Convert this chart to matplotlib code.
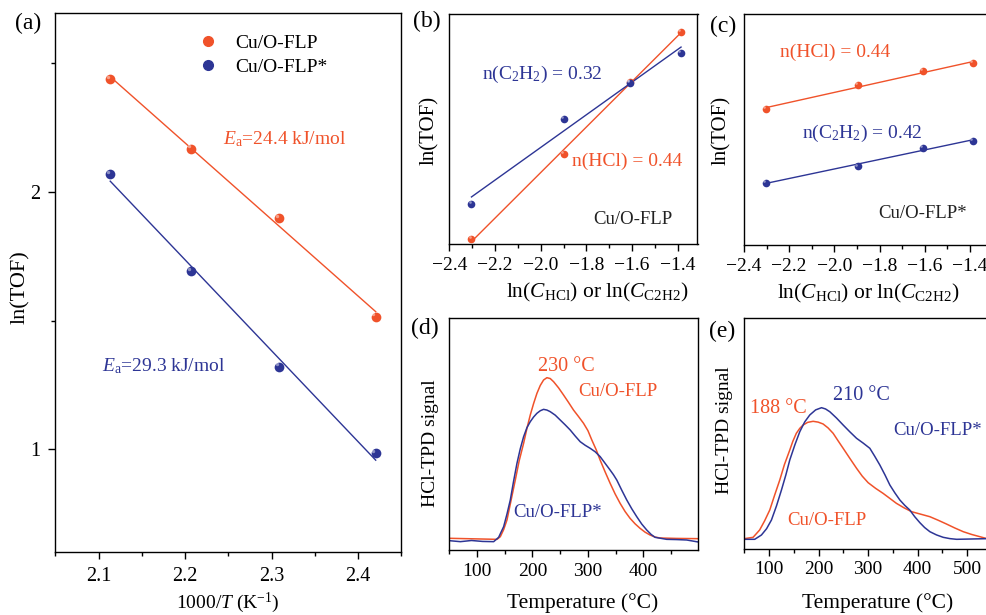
import numpy as np
import matplotlib
matplotlib.use("Agg")
import matplotlib.pyplot as plt
from matplotlib.ticker import MultipleLocator, NullLocator, FixedLocator
from matplotlib.transforms import offset_copy

plt.rcParams['font.family'] = ['Liberation Serif', 'DejaVu Serif']
plt.rcParams['mathtext.fontset'] = 'custom'
plt.rcParams['mathtext.rm'] = 'Liberation Serif'
plt.rcParams['mathtext.it'] = 'Liberation Serif:italic'
plt.rcParams['axes.unicode_minus'] = True

ORANGE = '#F0522A'
BLUE = '#2D3595'

# ---------------- data ----------------
# (a) Arrhenius
invT = [2.1135, 2.2068, 2.3087, 2.4204]
lnTOF_flp = [2.438, 2.168, 1.899, 1.516]
lnTOF_flpstar = [2.068, 1.692, 1.321, 0.985]

# (b)/(c) reaction orders
lnC = [-2.303, -1.897, -1.609, -1.386]
b_hcl = [0.010, 0.173, 0.313, 0.409]
b_c2h2 = [0.078, 0.2415, 0.311, 0.368]
c_hcl = [1.183, 1.388, 1.510, 1.580]
c_c2h2 = [0.542, 0.683, 0.846, 0.908]

# (d) HCl-TPD
d_T_flp = [50, 136, 142, 148, 154, 161, 169, 176, 184, 190, 196, 202, 208, 214, 220, 226, 232, 238, 247, 256, 265,
           274, 283, 292, 300, 307, 315, 322, 331, 340, 349, 358, 367, 376, 385, 394, 403, 412, 421, 430, 460, 499]
d_s_flp = [0.0505, 0.046, 0.0575, 0.088, 0.1295, 0.21, 0.302, 0.385, 0.4605, 0.525, 0.5826, 0.632, 0.676, 0.710,
           0.7337, 0.7437, 0.740, 0.7265, 0.700, 0.669, 0.637, 0.604, 0.576, 0.547, 0.515, 0.4747, 0.432, 0.388,
           0.337, 0.288, 0.242, 0.2015, 0.166, 0.1366, 0.113, 0.0935, 0.077, 0.0647, 0.056, 0.0518, 0.050, 0.0489]
d_T_star = [50, 70, 90, 110, 130, 139, 148, 154, 160, 166, 172, 178, 184, 190, 196, 202, 208, 214, 220, 226, 232,
            241, 250, 259, 268, 277, 286, 295, 304, 313, 322, 331, 340, 346, 352, 361, 370, 379, 388, 397, 406, 414,
            421, 442, 460, 478, 499]
d_s_star = [0.0403, 0.036, 0.041, 0.037, 0.036, 0.0547, 0.1007, 0.155, 0.2158, 0.298, 0.374, 0.437, 0.489, 0.528,
            0.5538, 0.574, 0.590, 0.601, 0.607, 0.604, 0.597, 0.582, 0.561, 0.540, 0.518, 0.492, 0.4675, 0.452,
            0.439, 0.424, 0.403, 0.374, 0.345, 0.325, 0.302, 0.258, 0.2158, 0.178, 0.1438, 0.112, 0.0863, 0.067,
            0.0547, 0.046, 0.045, 0.0432, 0.0345]

# (e) HCl-TPD
e_T_flp = [50, 67.7, 81, 91, 101.4, 111, 121.6, 131, 141.8, 148, 155, 162, 168.7, 178, 188.9, 199, 209, 219, 229.3,
           239, 249.5, 263, 276.6, 288, 300, 315, 330, 344, 357, 372, 387.7, 406, 424.6, 441, 458, 475, 492, 509,
           525.6, 540]
e_s_flp = [0.0448, 0.0506, 0.0824, 0.122, 0.169, 0.232, 0.299, 0.366, 0.429, 0.467, 0.5015, 0.523, 0.5375, 0.549,
           0.5535, 0.550, 0.542, 0.525, 0.5015, 0.470, 0.4365, 0.393, 0.3498, 0.316, 0.2874, 0.263, 0.2414, 0.219,
           0.198, 0.179, 0.1617, 0.151, 0.140, 0.125, 0.1084, 0.091, 0.075, 0.063, 0.0533, 0.0448]
e_T_star = [50, 71, 84.6, 95, 104.8, 115, 125, 134, 141.8, 152, 162, 172, 182.2, 194, 205.9, 214, 222.6, 236, 249.5,
            263, 276.6, 290, 303.4, 313, 323.6, 334, 343.8, 354, 364, 374, 384, 394, 404.4, 414, 424.6, 438, 451.5,
            465, 478.6, 540]
e_s_star = [0.042, 0.042, 0.0607, 0.088, 0.1257, 0.187, 0.2557, 0.322, 0.3858, 0.451, 0.5085, 0.551, 0.581, 0.603,
            0.6125, 0.607, 0.595, 0.568, 0.5375, 0.508, 0.4798, 0.459, 0.4365, 0.403, 0.364, 0.321, 0.2774, 0.243,
            0.2124, 0.189, 0.169, 0.140, 0.114, 0.093, 0.075, 0.061, 0.0506, 0.045, 0.042, 0.0448]

W, H = 987, 615
fig = plt.figure(figsize=(W / 100, H / 100), dpi=100)


def ax_px(l, t, r, b):
    return fig.add_axes([l / W, 1 - b / H, (r - l) / W, (b - t) / H])


def ftext(x, y, s, **kw):
    fig.text(x / W, 1 - y / H, s, **kw)


def style(ax, labsize=14, pad=5):
    for sp in ax.spines.values():
        sp.set_linewidth(1.0)
    ax.tick_params(which='both', direction='out', labelsize=labsize, width=1.0, pad=pad)
    ax.tick_params(which='major', length=5)
    ax.tick_params(which='minor', length=3)
    ax.tick_params(axis='y', which='both', left=True, right=False)
    ax.tick_params(axis='x', which='both', top=False)


def balls(ax, x, y, c, ms):
    ax.plot(x, y, 'o', color=c, ms=ms, mec=c, mew=0, zorder=4)
    tr = offset_copy(ax.transData, fig=fig, x=-0.25 * ms, y=0.25 * ms, units='points')
    ax.plot(x, y, 'o', color='white', alpha=0.45, ms=ms * 0.35, mew=0, transform=tr, zorder=5)


def fitline(ax, x, y, c):
    p = np.polyfit(x, y, 1)
    xx = np.array([min(x), max(x)])
    ax.plot(xx, np.polyval(p, xx), '-', color=c, lw=1.0, zorder=3)


# ---------------- (a) ----------------
axa = ax_px(55.3, 13.3, 401.3, 551.7)
style(axa, labsize=14.5, pad=6)
fitline(axa, invT, lnTOF_flp, ORANGE)
fitline(axa, invT, lnTOF_flpstar, BLUE)
balls(axa, invT, lnTOF_flp, ORANGE, 7)
balls(axa, invT, lnTOF_flpstar, BLUE, 7)
axa.set_xlim(2.05, 2.45)
axa.set_ylim(0.603, 2.694)
axa.xaxis.set_major_locator(MultipleLocator(0.1))
axa.xaxis.set_minor_locator(MultipleLocator(0.05))
axa.yaxis.set_major_locator(FixedLocator([1, 2]))
axa.yaxis.set_minor_locator(FixedLocator([1.5, 2.5]))
axa.set_yticklabels(['1', '2'])
axa.set_xlabel(r'1000/$T$ (K$^{-1}$)', fontsize=14)
axa.xaxis.set_label_coords(0.498, -0.0953)
axa.xaxis.label.set_va('center')
axa.set_ylabel('ln(TOF)', fontsize=16)
axa.yaxis.set_label_coords(-0.100, 0.4916)
axa.yaxis.label.set_va('center')
axa.plot([], [], 'o', color=ORANGE, ms=7, label='Cu/O-FLP')
axa.plot([], [], 'o', color=BLUE, ms=7, label='Cu/O-FLP*')
leg = axa.legend(loc='upper left', bbox_to_anchor=(198 / W, 1 - 34 / H), bbox_transform=fig.transFigure,
                 frameon=False, fontsize=14, handlelength=1.0, handletextpad=0.9, labelspacing=0.35,
                 borderpad=0, borderaxespad=0)
ftext(222.7, 144.7, r'$E_\mathrm{a}$=24.4 kJ/mol', color=ORANGE, fontsize=14, va='baseline')
ftext(101.7, 371.4, r'$E_\mathrm{a}$=29.3 kJ/mol', color=BLUE, fontsize=14, va='baseline')

# ---------------- (b) ----------------
axb = ax_px(449.3, 14, 697.5, 244.3)
style(axb, labsize=14, pad=4)
fitline(axb, lnC, b_hcl, ORANGE)
fitline(axb, lnC, b_c2h2, BLUE)
balls(axb, lnC, b_hcl, ORANGE, 5.5)
balls(axb, lnC, b_c2h2, BLUE, 5.5)
axb.set_xlim(-2.4, -1.314)
axb.set_ylim(0, 0.443)

# ---------------- (c) ----------------
axc = ax_px(744, 14, 992.2, 245)
style(axc, labsize=14, pad=4)
fitline(axc, lnC, c_hcl, ORANGE)
fitline(axc, lnC, c_c2h2, BLUE)
balls(axc, lnC, c_hcl, ORANGE, 5.5)
balls(axc, lnC, c_c2h2, BLUE, 5.5)
axc.set_xlim(-2.4, -1.302)
axc.set_ylim(0, 2.009)

for ax, xl in ((axb, 0.598), (axc, 0.4996)):
    ax.xaxis.set_major_locator(MultipleLocator(0.2))
    ax.xaxis.set_minor_locator(MultipleLocator(0.1))
    ax.yaxis.set_major_locator(NullLocator())
    ax.yaxis.set_minor_locator(NullLocator())
    ax.set_xlabel(r'ln($C_\mathrm{HCl}$) or ln($C_\mathrm{C2H2}$)', fontsize=15.5)
    ax.xaxis.set_label_coords(xl, -0.21)
    ax.xaxis.label.set_va('center')
    ax.set_ylabel('ln(TOF)', fontsize=15)
    ax.yaxis.label.set_va('center')
axb.yaxis.set_label_coords(-0.078, 0.496)
axc.yaxis.set_label_coords(-0.090, 0.494)

ftext(481.7, 79.1, r'n(C$_2$H$_2$) = 0.32', color=BLUE, fontsize=14, va='baseline')
ftext(571.7, 166.4, 'n(HCl) = 0.44', color=ORANGE, fontsize=14, va='baseline')
ftext(593, 224.4, 'Cu/O-FLP', color='#222222', fontsize=13.5, va='baseline')
ftext(780, 57.4, 'n(HCl) = 0.44', color=ORANGE, fontsize=14, va='baseline')
ftext(801.7, 138.1, r'n(C$_2$H$_2$) = 0.42', color=BLUE, fontsize=14, va='baseline')
ftext(878, 218.1, 'Cu/O-FLP*', color='#222222', fontsize=13.5, va='baseline')

# ---------------- (d) ----------------
axd = ax_px(449.3, 318.3, 698.3, 550)
style(axd, labsize=14, pad=4)
axd.plot(d_T_flp, d_s_flp, '-', color=ORANGE, lw=1.1)
axd.plot(d_T_star, d_s_star, '-', color=BLUE, lw=1.1)
axd.set_xlim(50, 499)
axd.set_ylim(0, 1)
axd.xaxis.set_major_locator(FixedLocator([100, 200, 300, 400]))
axd.xaxis.set_minor_locator(FixedLocator([50, 150, 250, 350, 450]))

# ---------------- (e) ----------------
axe = ax_px(744.3, 318.3, 992.5, 549)
style(axe, labsize=14, pad=4)
axe.plot(e_T_flp, e_s_flp, '-', color=ORANGE, lw=1.1)
axe.plot(e_T_star, e_s_star, '-', color=BLUE, lw=1.1)
axe.set_xlim(50, 551)
axe.set_ylim(0, 1)
axe.xaxis.set_major_locator(FixedLocator([100, 200, 300, 400, 500]))
axe.xaxis.set_minor_locator(FixedLocator([50, 150, 250, 350, 450, 550]))

for ax, yl, xx, yy in ((axd, 0.462, -0.0775, -0.229), (axe, 0.516, -0.0778, -0.234)):
    ax.yaxis.set_major_locator(NullLocator())
    ax.yaxis.set_minor_locator(NullLocator())
    ax.set_xlabel('Temperature (°C)', fontsize=15.5)
    ax.xaxis.set_label_coords(0.537, yy)
    ax.xaxis.label.set_va('center')
    ax.set_ylabel('HCl-TPD signal', fontsize=14)
    ax.yaxis.set_label_coords(xx, yl)
    ax.yaxis.label.set_va('center')

ftext(538, 371.4, '230 °C', color=ORANGE, fontsize=14.5, va='baseline')
ftext(578, 395.7, 'Cu/O-FLP', color=ORANGE, fontsize=13.5, va='baseline')
ftext(513, 517.1, 'Cu/O-FLP*', color=BLUE, fontsize=13.5, va='baseline')
ftext(833, 399.7, '210 °C', color=BLUE, fontsize=14.5, va='baseline')
ftext(750, 413.1, '188 °C', color=ORANGE, fontsize=14.5, va='baseline')
ftext(893, 434.7, 'Cu/O-FLP*', color=BLUE, fontsize=13.5, va='baseline')
ftext(787, 524.7, 'Cu/O-FLP', color=ORANGE, fontsize=13.5, va='baseline')

# panel letters
for x, y, s in ((28.5, 23, '(a)'), (426.7, 21.7, '(b)'), (723.3, 26.7, '(c)'), (425, 328.3, '(d)'), (721.7, 331.7, '(e)')):
    ftext(x, y, s, fontsize=17, ha='center', va='center')

fig.savefig('out.png', dpi=100)
